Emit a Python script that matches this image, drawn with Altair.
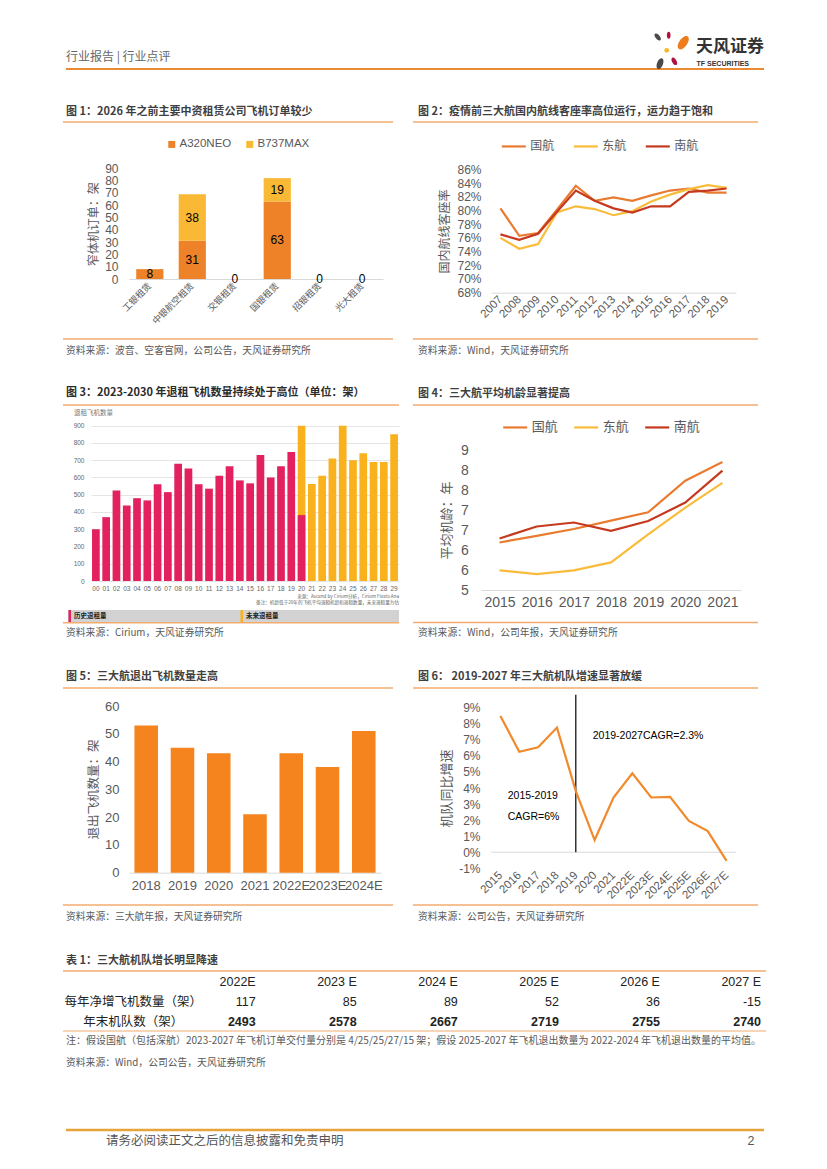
import altair as alt
import pandas as pd

CJK = "Noto Sans CJK SC"
LAT = "Liberation Sans"

# ---------------- data ----------------
fig1_companies = ["工银租赁", "中银航空租赁", "交银租赁", "国银租赁", "招银租赁", "光大租赁"]
fig1_series = ["A320NEO", "B737MAX"]
fig1_a320neo = [8, 31, 0, 63, 0, 0]
fig1_b737max = [0, 38, 0, 19, 0, 0]
fig1_ticks = [0, 10, 20, 30, 40, 50, 60, 70, 80, 90]

fig2_years = ["2007", "2008", "2009", "2010", "2011", "2012", "2013",
              "2014", "2015", "2016", "2017", "2018", "2019"]
fig2_airlines = ["国航", "东航", "南航"]
fig2_air_china = [80.3, 76.3, 76.7, 80.1, 83.6, 81.4, 81.9, 81.4, 82.2, 82.9, 83.2, 82.6, 82.6]
fig2_china_eastern = [76.0, 74.4, 75.1, 79.7, 80.6, 80.2, 79.3, 79.9, 81.3, 82.3, 83.1, 83.7, 83.3]
fig2_china_southern = [76.5, 75.7, 76.6, 79.8, 82.9, 81.4, 80.3, 79.7, 80.6, 80.6, 82.7, 82.9, 83.2]
fig2_ticks = [68, 70, 72, 74, 76, 78, 80, 82, 84, 86]

fig3_years = ["00", "01", "02", "03", "04", "05", "06", "07", "08", "09",
              "10", "11", "12", "13", "14", "15", "16", "17", "18", "19",
              "20", "21", "22", "23", "24", "25", "26", "27", "28", "29"]
fig3_hist_years = ["00", "01", "02", "03", "04", "05", "06", "07", "08", "09",
                   "10", "11", "12", "13", "14", "15", "16", "17", "18", "19", "20"]
fig3_hist = [300, 370, 525, 437, 480, 467, 560, 515, 680, 652,
             560, 535, 610, 665, 583, 566, 730, 600, 665, 748, 382]
fig3_future_years = ["20", "21", "22", "23", "24", "25", "26", "27", "28", "29"]
fig3_future = [900, 562, 610, 710, 900, 700, 740, 690, 690, 850]
fig3_ticks = [0, 100, 200, 300, 400, 500, 600, 700, 800, 900]

fig4_years = ["2015", "2016", "2017", "2018", "2019", "2020", "2021"]
fig4_air_china = [6.31, 6.49, 6.68, 6.91, 7.14, 8.01, 8.53]
fig4_china_eastern = [5.54, 5.44, 5.54, 5.76, 6.53, 7.27, 7.95]
fig4_china_southern = [6.42, 6.75, 6.86, 6.63, 6.90, 7.41, 8.29]
fig4_ticks = [5, 5.55, 6.1, 6.65, 7.2, 7.75, 8.3, 8.85]

fig5_years = ["2018", "2019", "2020", "2021", "2022E", "2023E", "2024E"]
fig5_retired = [53, 45, 43, 21, 43, 38, 51]
fig5_ticks = [0, 10, 20, 30, 40, 50, 60]

fig6_years = ["2015", "2016", "2017", "2018", "2019", "2020", "2021",
              "2022E", "2023E", "2024E", "2025E", "2026E", "2027E"]
fig6_growth = [8.48, 6.26, 6.53, 7.76, 3.81, 0.76, 3.40, 4.92, 3.41, 3.45, 1.95, 1.32, -0.54]
fig6_ticks = [-1, 0, 1, 2, 3, 4, 5, 6, 7, 8, 9]
fig6_split_year = ["2019"]

table_cols = ["2022E", "2023 E", "2024 E", "2025 E", "2026 E", "2027 E"]
table_net_add = [117, 85, 89, 52, 36, -15]
table_fleet = [2493, 2578, 2667, 2719, 2755, 2740]
table_row_labels = ["每年净增飞机数量（架）", "年末机队数（架）"]

# ---------------- styles ----------------
AX = "#595959"
TITLE_C = "#3F3F3F"
SRC_C = "#595959"
RULE_C = "#F2AB6E"
HEAD_C = "#EA8A33"
FOOT_C = "#E6A43A"
ORANGE = "#EE8228"
GOLD = "#F9B934"
LINE_COLORS = ["#E97B31", "#F9BC3A", "#C53A1F"]

ONE = pd.DataFrame({"k": [0]})


def text(x, y, s, size=11.0, color=TITLE_C, weight="normal", align="left",
         font=CJK, baseline="middle"):
    return alt.Chart(ONE).mark_text(
        text=s, align=align, baseline=baseline, fontSize=size, color=color,
        fontWeight=weight, font=font
    ).encode(x=alt.value(x), y=alt.value(y))


def hrule(x1, x2, y, color, width=1.0):
    return alt.Chart(ONE).mark_rule(color=color, strokeWidth=width).encode(
        x=alt.value(x1), x2=alt.value(x2), y=alt.value(y))


def box(x1, x2, y1, y2, color):
    return alt.Chart(ONE).mark_rect(color=color).encode(
        x=alt.value(x1), x2=alt.value(x2), y=alt.value(y1), y2=alt.value(y2))


def dot(x, y, size, color, shape="circle", angle=0):
    return alt.Chart(ONE).mark_point(filled=True, shape=shape, size=size, color=color,
                                     opacity=1, angle=angle).encode(
        x=alt.value(x), y=alt.value(y))


W0, W1 = 338, 355
H0, H1, H2, H3, H4 = 70, 258, 275, 275, 210

# ---------------- header ----------------
header_left = alt.layer(
    text(3, 35, "行业报告 | 行业点评", size=12, color="#666666"),
    hrule(3, 701, 47, HEAD_C, 2),
).properties(width=W0, height=H0)

PETAL = "M0,-1 C0.7,-1 0.7,1 0,1 C-0.7,1 -0.7,-1 0,-1 Z"
header_right = alt.layer(
    dot(246.7, 15, 70, "#4A4A4A", PETAL, 320),
    dot(257.7, 13.3, 50, "#B0123D", PETAL, 0),
    dot(272.3, 20.7, 230, "#EE7C1A", PETAL, 35),
    dot(255.7, 28.3, 22, "#F8B62D", "circle"),
    dot(249, 41.7, 130, "#4A4A4A", PETAL, 20),
    dot(263.3, 39.3, 70, "#B0123D", PETAL, 330),
    text(285, 25, "天风证券", size=17, color="#333333", weight="bold"),
    text(285.5, 42.3, "TF SECURITIES", size=7, color="#333333", weight="bold", font=LAT),
).properties(width=W1, height=H0)

# ---------------- figure 1 ----------------
df1 = pd.DataFrame({
    "company": fig1_companies + fig1_companies,
    "series": [fig1_series[0]] * len(fig1_companies) + [fig1_series[1]] * len(fig1_companies),
    "value": fig1_a320neo + fig1_b737max,
    "ord": [0] * len(fig1_companies) + [1] * len(fig1_companies),
})
lab1 = []
for c, a, b in zip(fig1_companies, fig1_a320neo, fig1_b737max):
    lab1.append({"company": c, "mid": a / 2, "label": str(a)})
    if b > 0:
        lab1.append({"company": c, "mid": a + b / 2, "label": str(b)})
lab1 = pd.DataFrame(lab1)

xs1 = alt.Scale(domain=fig1_companies, range=[66, 320], paddingInner=0.36, paddingOuter=0.17)
xa1 = alt.Axis(offset=-81, domain=True, domainColor="#D9D9D9", ticks=False, labelAngle=315,
               labelAlign="right", labelBaseline="middle", labelFont=CJK, labelFontSize=9,
               labelColor=AX, labelPadding=5, labelOverlap=False, title=None)
ys1 = alt.Scale(domain=[0, 90], range=[177, 66.3], nice=False)
ya1 = alt.Axis(values=fig1_ticks, offset=-66, domain=False, ticks=False, grid=False,
               labelFont=LAT, labelFontSize=12, labelColor=AX, labelPadding=11, labelOverlap=False,
               title="窄体机订单：架", titleFont=CJK, titleFontSize=12, titleFontWeight="normal",
               titleColor=AX, titleX=-36, titleY=121.7, titleAngle=270, titleAlign="center",
               titleBaseline="middle")
bars1 = alt.Chart(df1).mark_bar().encode(
    x=alt.X("company:N", scale=xs1, axis=xa1),
    y=alt.Y("value:Q", stack="zero", scale=ys1, axis=ya1),
    color=alt.Color("series:N", scale=alt.Scale(domain=fig1_series, range=[ORANGE, GOLD]),
                    legend=alt.Legend(orient="none", legendX=103, legendY=36.3, direction="horizontal",
                                      title=None, symbolType="square", symbolSize=49, padding=0,
                                      labelFont=LAT, labelFontSize=11.5, labelColor=AX,
                                      labelOffset=2, columnPadding=12)),
    order=alt.Order("ord:Q"),
)
text1 = alt.Chart(lab1).mark_text(font=LAT, fontSize=12, color="#000000", baseline="middle").encode(
    x=alt.X("company:N", scale=xs1, axis=xa1),
    y=alt.Y("mid:Q", scale=ys1, axis=ya1),
    text="label:N",
)
fig1 = alt.layer(
    text(3, 10, "图 1：2026 年之前主要中资租赁公司飞机订单较少", weight="bold"),
    hrule(0, 330, 20, RULE_C, 1.5),
    bars1, text1,
    hrule(0, 330, 237, RULE_C, 1.5),
    text(3, 249, "资料来源：波音、空客官网，公司公告，天风证券研究所", size=9.8, color=SRC_C),
).properties(width=W0, height=H1)

# ---------------- figure 2 ----------------
df2 = pd.DataFrame({
    "year": fig2_years * 3,
    "airline": [fig2_airlines[0]] * 13 + [fig2_airlines[1]] * 13 + [fig2_airlines[2]] * 13,
    "rate": fig2_air_china + fig2_china_eastern + fig2_china_southern,
})
xs2 = alt.Scale(type="point", domain=fig2_years, range=[80, 325], padding=0.5)
xa2 = alt.Axis(offset=-67.3, domain=True, domainColor="#D9D9D9", ticks=False, labelAngle=315,
               labelAlign="right", labelBaseline="middle", labelFont=LAT, labelFontSize=11.5,
               labelColor=AX, labelPadding=5, labelOverlap=False, title=None)
ys2 = alt.Scale(domain=[68, 86], range=[190.7, 67.3], nice=False, zero=False)
ya2 = alt.Axis(values=fig2_ticks, offset=-80, domain=False, ticks=False, grid=False,
               labelExpr="datum.value + '%'", labelFont=LAT, labelFontSize=12, labelColor=AX,
               labelPadding=10, labelOverlap=False,
               title="国内航线客座率", titleFont=CJK, titleFontSize=12, titleFontWeight="normal",
               titleColor=AX, titleX=-47, titleY=129, titleAngle=270, titleAlign="center",
               titleBaseline="middle")
lines2 = alt.Chart(df2).mark_line(strokeWidth=2.2).encode(
    x=alt.X("year:N", scale=xs2, axis=xa2),
    y=alt.Y("rate:Q", scale=ys2, axis=ya2),
    color=alt.Color("airline:N", scale=alt.Scale(domain=fig2_airlines, range=LINE_COLORS),
                    legend=alt.Legend(orient="none", legendX=89.3, legendY=30.7, direction="horizontal",
                                      title=None, symbolType="stroke", symbolSize=576,
                                      symbolStrokeWidth=2.2, padding=0, labelFont=CJK,
                                      labelFontSize=12, labelColor=AX, labelOffset=3,
                                      columnPadding=14)),
)
fig2 = alt.layer(
    text(7, 10, "图 2：疫情前三大航国内航线客座率高位运行，运力趋于饱和", weight="bold"),
    hrule(2, 347, 20, RULE_C, 1.5),
    lines2,
    hrule(2, 347, 237, RULE_C, 1.5),
    text(7, 249, "资料来源：Wind，天风证券研究所", size=9.8, color=SRC_C),
).properties(width=W1, height=H1)

# ---------------- figure 3 ----------------
df3h = pd.DataFrame({"yr": fig3_hist_years, "n": fig3_hist})
df3f = pd.DataFrame({"yr": fig3_future_years, "n": fig3_future})
xs3 = alt.Scale(domain=fig3_years, range=[28, 336], paddingInner=0.25, paddingOuter=0.1)
xa3 = alt.Axis(offset=-64, domain=False, ticks=False, labelAngle=0, labelAlign="center",
               labelBaseline="top", labelFont=LAT, labelFontSize=6.5, labelColor="#666666",
               labelPadding=4, labelOverlap=False, title=None)
ys3 = alt.Scale(domain=[0, 900], range=[211, 55.7], nice=False, clamp=True)
ya3 = alt.Axis(values=fig3_ticks, offset=-28, domain=False, ticks=False, grid=True,
               gridColor="#DADADA", gridWidth=0.7, labelFont=LAT, labelFontSize=6.5,
               labelColor="#666666", labelPadding=7, labelOverlap=False, title=None)
fut3 = alt.Chart(df3f).mark_bar(color="#F9B21D").encode(
    x=alt.X("yr:N", scale=xs3, axis=xa3), y=alt.Y("n:Q", scale=ys3, axis=ya3))
hist3 = alt.Chart(df3h).mark_bar(color="#E2215E").encode(
    x=alt.X("yr:N", scale=xs3, axis=xa3), y=alt.Y("n:Q", scale=ys3, axis=ya3))
fig3 = alt.layer(
    text(3, 23.3, "图 3：2023-2030 年退租飞机数量持续处于高位（单位：架）", size=11, color="#2B2B2B",
         weight="bold"),
    hrule(0, 336, 35, RULE_C, 1.5),
    text(11, 42.5, "退租飞机数量", size=6.5, color="#777777"),
    fut3, hist3,
    text(336, 226.5, "来源：Ascend by Cirium分析，Cirium Fleets Ana", size=4.6, color="#666666",
         align="right"),
    text(336, 233, "备注：机龄低于20年的飞机平均退租机龄和退租数量，未来退租量为估", size=4.6,
         color="#666666", align="right"),
    box(5, 336, 240, 252, "#D2D2D2"),
    box(5.5, 8, 240, 252, "#E2215E"),
    box(177.5, 180, 240, 252, "#F9B21D"),
    text(11, 246, "历史退租量", size=6.5, color="#222222", weight="bold"),
    text(183, 246, "未来退租量", size=6.5, color="#222222", weight="bold"),
    hrule(0, 336, 252.8, RULE_C, 1.5),
    text(3, 263, "资料来源：Cirium，天风证券研究所", size=9.8, color=SRC_C),
).properties(width=W0, height=H2)

# ---------------- figure 4 ----------------
df4 = pd.DataFrame({
    "year": fig4_years * 3,
    "airline": [fig2_airlines[0]] * 7 + [fig2_airlines[1]] * 7 + [fig2_airlines[2]] * 7,
    "age": fig4_air_china + fig4_china_eastern + fig4_china_southern,
})
xs4 = alt.Scale(type="point", domain=fig4_years, range=[70, 330], padding=0.5)
xa4 = alt.Axis(offset=-55, domain=True, domainColor="#D9D9D9", ticks=False, labelAngle=0,
               labelAlign="center", labelBaseline="top", labelFont=LAT, labelFontSize=14,
               labelColor=AX, labelPadding=5, labelOverlap=False, title=None)
ys4 = alt.Scale(domain=[5, 8.85], range=[220, 80.3], nice=False, zero=False)
ya4 = alt.Axis(values=fig4_ticks, format=".0f", offset=-70, domain=False, ticks=False, grid=False,
               labelFont=LAT, labelFontSize=14, labelColor=AX, labelPadding=12.7,
               labelOverlap=False,
               title="平均机龄：年", titleFont=CJK, titleFontSize=13, titleFontWeight="normal",
               titleColor=AX, titleX=-35, titleY=150, titleAngle=270, titleAlign="center",
               titleBaseline="middle")
lines4 = alt.Chart(df4).mark_line(strokeWidth=2.2).encode(
    x=alt.X("year:N", scale=xs4, axis=xa4),
    y=alt.Y("age:Q", scale=ys4, axis=ya4),
    color=alt.Color("airline:N", scale=alt.Scale(domain=fig2_airlines, range=LINE_COLORS),
                    legend=alt.Legend(orient="none", legendX=90.7, legendY=43.7, direction="horizontal",
                                      title=None, symbolType="stroke", symbolSize=576,
                                      symbolStrokeWidth=2.2, padding=0, labelFont=CJK,
                                      labelFontSize=13, labelColor=AX, labelOffset=3,
                                      columnPadding=11)),
)
fig4 = alt.layer(
    text(7, 24, "图 4：三大航平均机龄显著提高", weight="bold"),
    hrule(2, 347, 35, RULE_C, 1.5),
    lines4,
    hrule(2, 347, 252.5, RULE_C, 1.5),
    text(7, 263, "资料来源：Wind，公司年报，天风证券研究所", size=9.8, color=SRC_C),
).properties(width=W1, height=H2)

# ---------------- figure 5 ----------------
df5 = pd.DataFrame({"year": fig5_years, "n": fig5_retired})
xs5 = alt.Scale(domain=fig5_years, range=[66, 318], paddingInner=0.35, paddingOuter=0.15)
xa5 = alt.Axis(offset=-57.3, domain=True, domainColor="#D9D9D9", ticks=False, labelAngle=0,
               labelAlign="center", labelBaseline="top", labelFont=LAT, labelFontSize=13,
               labelColor=AX, labelPadding=7, labelOverlap=False, title=None)
ys5 = alt.Scale(domain=[0, 60], range=[217.7, 51], nice=False)
ya5 = alt.Axis(values=fig5_ticks, offset=-66, domain=False, ticks=False, grid=False,
               labelFont=LAT, labelFontSize=13, labelColor=AX, labelPadding=10, labelOverlap=False,
               title="退出飞机数量：架", titleFont=CJK, titleFontSize=12.5, titleFontWeight="normal",
               titleColor=AX, titleX=-36, titleY=134, titleAngle=270, titleAlign="center",
               titleBaseline="middle")
bars5 = alt.Chart(df5).mark_bar(color="#F5841F").encode(
    x=alt.X("year:N", scale=xs5, axis=xa5), y=alt.Y("n:Q", scale=ys5, axis=ya5))
fig5 = alt.layer(
    text(3, 22, "图 5：三大航退出飞机数量走高", weight="bold"),
    hrule(0, 330, 33, RULE_C, 1.5),
    bars5,
    hrule(0, 330, 250, RULE_C, 1.5),
    text(3, 261.7, "资料来源：三大航年报，天风证券研究所", size=9.8, color=SRC_C),
).properties(width=W0, height=H3)

# ---------------- figure 6 ----------------
df6 = pd.DataFrame({"year": fig6_years, "g": fig6_growth})
df6_zero = pd.DataFrame({"g": [0]})
df6_split = pd.DataFrame({"year": fig6_split_year, "top": [9.8], "g": [0]})
xs6 = alt.Scale(type="point", domain=fig6_years, range=[80, 325], padding=0.5)
xa6 = alt.Axis(offset=-61.7, domain=False, ticks=False, labelAngle=315, labelAlign="right",
               labelBaseline="middle", labelFont=LAT, labelFontSize=11.5, labelColor=AX,
               labelPadding=5, labelOverlap=False, title=None)
ys6 = alt.Scale(domain=[-1, 9], range=[213.3, 52.7], nice=False, zero=False)
ya6 = alt.Axis(values=fig6_ticks, offset=-80, domain=False, ticks=False, grid=False,
               labelExpr="datum.value + '%'", labelFont=LAT, labelFontSize=12, labelColor=AX,
               labelPadding=11, labelOverlap=False,
               title="机队同比增速", titleFont=CJK, titleFontSize=13, titleFontWeight="normal",
               titleColor=AX, titleX=-45, titleY=133, titleAngle=270, titleAlign="center",
               titleBaseline="middle")
zero6 = alt.Chart(df6_zero).mark_rule(color="#D9D9D9", strokeWidth=1).encode(
    y=alt.Y("g:Q", scale=ys6, axis=ya6), x=alt.value(80), x2=alt.value(325))
split6 = alt.Chart(df6_split).mark_rule(color="#000000", strokeWidth=1.2).encode(
    x=alt.X("year:N", scale=xs6, axis=xa6),
    y=alt.Y("top:Q", scale=ys6, axis=ya6), y2="g:Q")
line6 = alt.Chart(df6).mark_line(color="#F08A2C", strokeWidth=2.2).encode(
    x=alt.X("year:N", scale=xs6, axis=xa6), y=alt.Y("g:Q", scale=ys6, axis=ya6))
fig6 = alt.layer(
    text(7, 22, "图 6：  2019-2027 年三大航机队增速显著放缓", weight="bold"),
    hrule(2, 347, 33, RULE_C, 1.5),
    zero6, split6, line6,
    text(181.7, 81, "2019-2027CAGR=2.3%", size=10.5, color="#000000", font=LAT),
    text(96.7, 140.7, "2015-2019", size=10.5, color="#000000", font=LAT),
    text(96.7, 161.7, "CAGR=6%", size=10.5, color="#000000", font=LAT),
    hrule(2, 347, 250, RULE_C, 1.5),
    text(7, 261.7, "资料来源：公司公告，天风证券研究所", size=9.8, color=SRC_C),
).properties(width=W1, height=H3)

# ---------------- table + footer ----------------
rows = ["hdr", "net", "fleet"]
tbl_hdr = pd.DataFrame({"col": table_cols, "row": "hdr", "label": table_cols})
tbl_net = pd.DataFrame({"col": table_cols, "row": "net", "label": [str(v) for v in table_net_add]})
tbl_fleet = pd.DataFrame({"col": table_cols, "row": "fleet", "label": [str(v) for v in table_fleet]})
tbl_rows = pd.DataFrame({"row": ["net", "fleet"], "label": table_row_labels})
xs7 = alt.Scale(type="point", domain=table_cols, range=[192.7, 698], padding=0)
ys7 = alt.Scale(type="point", domain=rows, range=[42, 81.7], padding=0)


def tbl_layer(df, weight):
    return alt.Chart(df).mark_text(font=LAT, fontSize=12.5, color="#222222", align="right",
                                   baseline="middle", fontWeight=weight).encode(
        x=alt.X("col:N", scale=xs7, axis=None),
        y=alt.Y("row:N", scale=ys7, axis=None),
        text="label:N")


rowlab = alt.Chart(tbl_rows).mark_text(font=CJK, fontSize=12.5, color="#222222", align="center",
                                       baseline="middle").encode(
    x=alt.value(132.3 - 62),
    y=alt.Y("row:N", scale=ys7, axis=None),
    text="label:N")

table = alt.layer(
    text(3, 21, "表 1：三大航机队增长明显降速", weight="bold"),
    hrule(0, 703, 31, RULE_C, 1.5),
    tbl_layer(tbl_hdr, "normal"), tbl_layer(tbl_net, "normal"), tbl_layer(tbl_fleet, "bold"),
    rowlab,
    hrule(0, 703, 91, RULE_C, 1.2),
    text(3, 101, "注：假设国航（包括深航）2023-2027 年飞机订单交付量分别是 4/25/25/27/15 架；假设 2025-2027 年飞机退出数量为 2022-2024 年飞机退出数量的平均值。",
         size=10, color=SRC_C),
    text(3, 123, "资料来源：Wind，公司公告，天风证券研究所", size=9.8, color=SRC_C),
    hrule(3, 701, 190, FOOT_C, 2.5),
    text(43, 201, "请务必阅读正文之后的信息披露和免责申明", size=12.5, color="#555555"),
).properties(width=W0, height=H4)

page_no = alt.layer(
    text(340, 201, "2", size=12.5, color="#555555", font=LAT, align="center"),
).properties(width=W1, height=H4)

chart = alt.concat(
    header_left, header_right,
    fig1, fig2,
    fig3, fig4,
    fig5, fig6,
    table, page_no,
    columns=2, spacing=10, bounds="flush", align="each",
).resolve_scale(color="independent").resolve_legend(color="independent").properties(
    padding={"left": 54, "top": 14, "right": 6, "bottom": 4},
    background="white",
).configure_view(stroke="transparent", strokeWidth=0)

chart.save("out.html", embed_options={"renderer": "svg", "actions": False})
